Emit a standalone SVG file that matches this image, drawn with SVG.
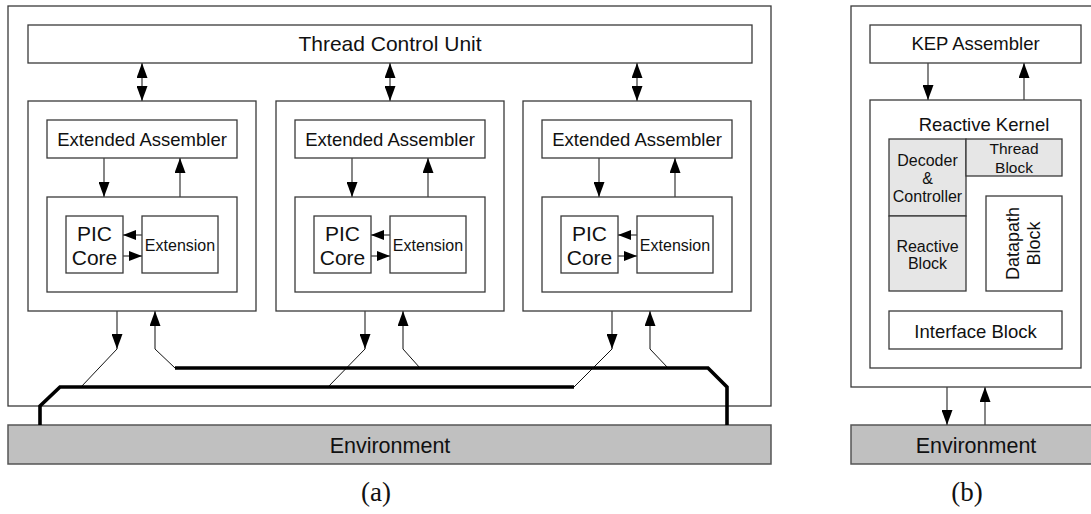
<svg xmlns="http://www.w3.org/2000/svg" width="1091" height="514" viewBox="0 0 1091 514">
<style>
.box{fill:#fff;stroke:#3a3a3a;stroke-width:1.3}
.gray{fill:#e6e6e6;stroke:#3a3a3a;stroke-width:1.3}
.env{fill:#c0c0c0;stroke:#555;stroke-width:1.5}
.ln{fill:none;stroke:#444;stroke-width:1.3}
.thin{fill:none;stroke:#111;stroke-width:1}
.bus{fill:none;stroke:#000;stroke-width:3.6;stroke-linejoin:miter}
text{font-family:"Liberation Sans",Arial,sans-serif;fill:#111;text-anchor:middle}
.cap{font-family:"Liberation Serif","Times New Roman",serif;font-size:27px}
</style>
<defs>
<marker id="ah" viewBox="0 0 15 11" markerUnits="userSpaceOnUse" markerWidth="15" markerHeight="11" refX="15" refY="5.5" orient="auto-start-reverse"><path d="M0,0 L15,5.5 L0,11 z" fill="#000"/></marker>
<marker id="ahs" viewBox="0 0 13 10" markerUnits="userSpaceOnUse" markerWidth="13" markerHeight="10" refX="13" refY="5" orient="auto"><path d="M0,0 L13,5 L0,10 z" fill="#000"/></marker>
</defs>

<g id="system-a">
<rect class="box" x="8" y="6" width="763" height="400"/>
</g>
<g id="thread-control-unit">
<rect class="box" x="28" y="25" width="724" height="38"/>
<text x="390" y="51" font-size="21">Thread Control Unit</text>
</g>

<g id="module-1">
<rect class="box" x="28" y="101" width="228" height="210"/>
<rect class="box" x="47" y="120" width="190" height="38"/>
<text x="142" y="146" font-size="18.5">Extended Assembler</text>
<rect class="box" x="47" y="197" width="190" height="95"/>
<rect class="box" x="66" y="216" width="57" height="57"/>
<text x="94.5" y="241" font-size="21">PIC</text>
<text x="94.5" y="265" font-size="21">Core</text>
<rect class="box" x="142" y="216" width="76" height="57"/>
<text x="180" y="251" font-size="16">Extension</text>
</g>
<g id="module-2">
<rect class="box" x="276" y="101" width="228" height="210"/>
<rect class="box" x="295" y="120" width="190" height="38"/>
<text x="390" y="146" font-size="18.5">Extended Assembler</text>
<rect class="box" x="295" y="197" width="190" height="95"/>
<rect class="box" x="314" y="216" width="57" height="57"/>
<text x="342.5" y="241" font-size="21">PIC</text>
<text x="342.5" y="265" font-size="21">Core</text>
<rect class="box" x="390" y="216" width="76" height="57"/>
<text x="428" y="251" font-size="16">Extension</text>
</g>
<g id="module-3">
<rect class="box" x="523" y="101" width="228" height="210"/>
<rect class="box" x="542" y="120" width="190" height="38"/>
<text x="637" y="146" font-size="18.5">Extended Assembler</text>
<rect class="box" x="542" y="197" width="190" height="95"/>
<rect class="box" x="561" y="216" width="57" height="57"/>
<text x="589.5" y="241" font-size="21">PIC</text>
<text x="589.5" y="265" font-size="21">Core</text>
<rect class="box" x="637" y="216" width="76" height="57"/>
<text x="675" y="251" font-size="16">Extension</text>
</g>
<g id="environment-a">
<rect class="env" x="8" y="425" width="763" height="39"/>
<text x="390" y="453" font-size="21.5">Environment</text>
</g>
<text class="cap" x="376" y="501">(a)</text>

<g id="system-b">
<rect class="box" x="851" y="6" width="260" height="381"/>
</g>
<g id="kep-assembler">
<rect class="box" x="870" y="25" width="211" height="38"/>
<text x="975.5" y="50" font-size="18.5">KEP Assembler</text>
</g>
<g id="reactive-kernel">
<rect class="box" x="870" y="100" width="211" height="268"/>
<text x="984" y="131" font-size="18.5">Reactive Kernel</text>
</g>
<g id="decoder-controller">
<rect class="gray" x="889" y="139" width="77" height="77"/>
<text x="927.5" y="166" font-size="16">Decoder</text>
<text x="927.5" y="184" font-size="16">&amp;</text>
<text x="927.5" y="202" font-size="16">Controller</text>
</g>
<g id="reactive-block">
<rect class="gray" x="889" y="216" width="77" height="75"/>
<text x="927.5" y="252" font-size="16">Reactive</text>
<text x="927.5" y="268.5" font-size="16">Block</text>
</g>
<g id="thread-block">
<rect class="gray" x="966" y="139" width="96" height="37"/>
<text x="1014" y="154" font-size="15.5">Thread</text>
<text x="1014" y="172.5" font-size="15.5">Block</text>
</g>
<g id="datapath-block">
<rect class="box" x="986" y="196" width="76" height="95"/>
<text transform="translate(1019,243.5) rotate(-90)" font-size="18">Datapath</text>
<text transform="translate(1040,243.5) rotate(-90)" font-size="18">Block</text>
</g>
<g id="interface-block">
<rect class="box" x="889" y="311" width="173" height="38"/>
<text x="975.5" y="337.5" font-size="18.5">Interface Block</text>
</g>
<g id="environment-b">
<rect class="env" x="851" y="425" width="260" height="39"/>
<text x="976" y="453" font-size="21.5">Environment</text>
</g>
<text class="cap" x="967" y="501">(b)</text>

<g id="connectors">
<line class="ln" x1="142" y1="63" x2="142" y2="101" marker-start="url(#ah)" marker-end="url(#ah)"/>
<line class="ln" x1="390" y1="63" x2="390" y2="101" marker-start="url(#ah)" marker-end="url(#ah)"/>
<line class="ln" x1="637" y1="63" x2="637" y2="101" marker-start="url(#ah)" marker-end="url(#ah)"/>

<line class="ln" x1="104" y1="158" x2="104" y2="197" marker-end="url(#ah)"/>
<line class="ln" x1="180" y1="197" x2="180" y2="158" marker-end="url(#ah)"/>
<line class="ln" x1="352" y1="158" x2="352" y2="197" marker-end="url(#ah)"/>
<line class="ln" x1="428" y1="197" x2="428" y2="158" marker-end="url(#ah)"/>
<line class="ln" x1="599" y1="158" x2="599" y2="197" marker-end="url(#ah)"/>
<line class="ln" x1="675" y1="197" x2="675" y2="158" marker-end="url(#ah)"/>

<line class="ln" x1="142" y1="235" x2="123" y2="235" marker-end="url(#ahs)"/>
<line class="ln" x1="123" y1="256" x2="142" y2="256" marker-end="url(#ahs)"/>
<line class="ln" x1="390" y1="235" x2="371" y2="235" marker-end="url(#ahs)"/>
<line class="ln" x1="371" y1="256" x2="390" y2="256" marker-end="url(#ahs)"/>
<line class="ln" x1="637" y1="235" x2="618" y2="235" marker-end="url(#ahs)"/>
<line class="ln" x1="618" y1="256" x2="637" y2="256" marker-end="url(#ahs)"/>

<line class="ln" x1="117" y1="311" x2="117" y2="349" marker-end="url(#ah)"/>
<line class="ln" x1="155" y1="349" x2="155" y2="311" marker-end="url(#ah)"/>
<line class="ln" x1="365" y1="311" x2="365" y2="349" marker-end="url(#ah)"/>
<line class="ln" x1="403" y1="349" x2="403" y2="311" marker-end="url(#ah)"/>
<line class="ln" x1="612" y1="311" x2="612" y2="349" marker-end="url(#ah)"/>
<line class="ln" x1="650" y1="349" x2="650" y2="311" marker-end="url(#ah)"/>

<path class="thin" d="M117,349 L81,387"/>
<path class="thin" d="M155,349 L175,368"/>
<path class="thin" d="M365,349 L328,387"/>
<path class="thin" d="M403,349 L420,368"/>
<path class="thin" d="M612,349 L574,387"/>
<path class="thin" d="M650,349 L668,368"/>

<path class="bus" d="M40,425 L40,406 L60,387 L574,387"/>
<path class="bus" d="M175,368 L708,368 L727,387 L727,425"/>

<line class="ln" x1="928" y1="63" x2="928" y2="100" marker-end="url(#ah)"/>
<line class="ln" x1="1024" y1="100" x2="1024" y2="63" marker-end="url(#ah)"/>
<line class="ln" x1="947" y1="387" x2="947" y2="425" marker-end="url(#ah)"/>
<line class="ln" x1="985" y1="425" x2="985" y2="387" marker-end="url(#ah)"/>
</g>
</svg>
